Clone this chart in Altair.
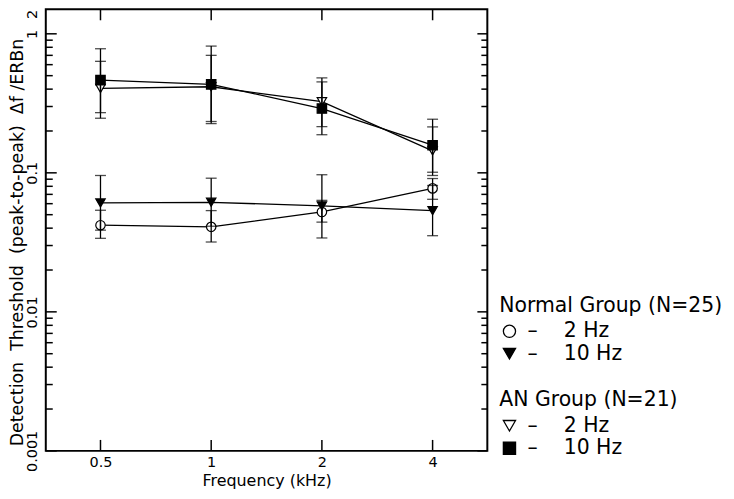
import altair as alt
import pandas as pd

# ---------------- data ----------------
freqs = [0.5, 1, 2, 4]

normal_2hz = [0.042, 0.0409, 0.0523, 0.0773]
normal_2hz_lo = [0.0338, 0.0318, 0.0442, 0.0645]
normal_2hz_hi = [0.0538, 0.0535, 0.0634, 0.091]

normal_10hz = [0.0607, 0.0614, 0.0578, 0.0535]
normal_10hz_lo = [0.0387, 0.0413, 0.034, 0.0353]
normal_10hz_hi = [0.0957, 0.0915, 0.0969, 0.0811]

an_2hz = [0.405, 0.416, 0.325, 0.144]
an_2hz_lo = [0.247, 0.234, 0.215, 0.0957]
an_2hz_hi = [0.634, 0.700, 0.482, 0.214]

an_10hz = [0.464, 0.433, 0.290, 0.158]
an_10hz_lo = [0.271, 0.226, 0.188, 0.101]
an_10hz_hi = [0.781, 0.816, 0.451, 0.243]

NB = "\u00a0"
label_2 = "\u2013" + NB * 4 + "2 Hz"
label_10 = "\u2013" + NB * 4 + "10 Hz"

y_major_ticks = [0.001, 0.01, 0.1, 1]
y_minor_ticks = [k * 10.0 ** e for e in (-3, -2, -1) for k in range(2, 10)]
x_ticks = [0.5, 1, 2, 4]
y_label_values = [0.001, 0.01, 0.1, 1, 1.5]

FONT = "DejaVu Sans"
W, H = 444, 444


def frame(group, label, vals, lo, hi):
    return pd.DataFrame({
        "group": group, "label": label, "series": group + label,
        "freq": freqs, "value": vals, "lo": lo, "hi": hi,
    })


df = pd.concat([
    frame("Normal", label_2, normal_2hz, normal_2hz_lo, normal_2hz_hi),
    frame("Normal", label_10, normal_10hz, normal_10hz_lo, normal_10hz_hi),
    frame("AN", label_2, an_2hz, an_2hz_lo, an_2hz_hi),
    frame("AN", label_10, an_10hz, an_10hz_lo, an_10hz_hi),
], ignore_index=True)

ymaj = pd.DataFrame({"t": y_major_ticks})
ymin = pd.DataFrame({"t": y_minor_ticks})
xt = pd.DataFrame({"t": x_ticks})

xscale = alt.Scale(type="log", domain=[0.355, 5.635], nice=False)
yscale = alt.Scale(type="log", domain=[0.001, 1.5], nice=False)

xaxis = alt.Axis(values=x_ticks, format="~g", title="Frequency (kHz)",
                 labelFontSize=14.5, titleFontSize=16, labelPadding=5,
                 labelFont=FONT, titleFont=FONT,
                 titleBaseline="alphabetic", titleAlign="center",
                 titleX=W / 2, titleY=35)
yaxis = alt.Axis(values=y_label_values,
                 labelExpr="datum.value > 1.2 ? '2' : format(datum.value, '~g')",
                 labelAngle=270,
                 labelAlign={"condition": {"test": "datum.value > 1.2", "value": "right"},
                             "value": "center"},
                 labelBaseline="alphabetic",
                 labelPadding=9, labelFontSize=14.5, labelFont=FONT,
                 title="Detection" + NB * 2 + "Threshold" + NB * 2 + "(peak-to-peak)"
                       + NB * 2 + "\u0394f" + NB + "/ERBn",
                 titleFontSize=17.5, titleFont=FONT, titleAngle=270,
                 titleAlign="center", titleBaseline="alphabetic",
                 titleX=-23.5, titleY=234)


def xenc(field):
    return alt.X(field, scale=xscale, axis=xaxis)


def yenc(field):
    return alt.Y(field, scale=yscale, axis=yaxis)


# inward tick marks on all four sides (positions through the scales)
tick_style = dict(color="black", strokeWidth=1.5)
yt_major_l = alt.Chart(ymaj).mark_rule(**tick_style).encode(
    y=yenc("t:Q"), x=alt.value(0), x2=alt.value(11))
yt_minor_l = alt.Chart(ymin).mark_rule(**tick_style).encode(
    y=yenc("t:Q"), x=alt.value(0), x2=alt.value(7))
yt_major_r = alt.Chart(ymaj).mark_rule(**tick_style).encode(
    y=yenc("t:Q"), x=alt.value(W), x2=alt.value(W - 10))
yt_minor_r = alt.Chart(ymin).mark_rule(**tick_style).encode(
    y=yenc("t:Q"), x=alt.value(W), x2=alt.value(W - 6))
xt_b = alt.Chart(xt).mark_rule(**tick_style).encode(
    x=xenc("t:Q"), y=alt.value(H), y2=alt.value(H - 11))
xt_t = alt.Chart(xt).mark_rule(**tick_style).encode(
    x=xenc("t:Q"), y=alt.value(0), y2=alt.value(11))

lines = alt.Chart(df).mark_line(color="black", strokeWidth=1.3).encode(
    x=xenc("freq:Q"), y=yenc("value:Q"), detail="series:N")

errbars = alt.Chart(df).mark_rule(color="black", strokeWidth=1.3).encode(
    x=xenc("freq:Q"), y=yenc("lo:Q"), y2="hi:Q")
caps_lo = alt.Chart(df).mark_tick(orient="horizontal", size=11, thickness=1.3,
                                  color="black").encode(
    x=xenc("freq:Q"), y=yenc("lo:Q"))
caps_hi = alt.Chart(df).mark_tick(orient="horizontal", size=11, thickness=1.3,
                                  color="black").encode(
    x=xenc("freq:Q"), y=yenc("hi:Q"))


def legend(title, y):
    return alt.Legend(title=title, orient="none", legendX=456, legendY=y,
                      titleFontSize=20.5, labelFontSize=20.5, titleFont=FONT,
                      labelFont=FONT, titleFontWeight="normal",
                      titleColor="black", labelColor="black", symbolSize=150,
                      symbolStrokeColor="black", symbolStrokeWidth=1.3,
                      symbolOpacity=1, rowPadding=1.5, titlePadding=5,
                      labelOffset=8, padding=0, titleLimit=400, labelLimit=300)


def points(group, title, shapes, ly):
    lg = legend(title, ly)
    dom = [label_2, label_10]
    return alt.Chart(df[df.group == group]).mark_point(
        size=90, strokeWidth=1.2, opacity=1, filled=True).encode(
        x=xenc("freq:Q"), y=yenc("value:Q"),
        shape=alt.Shape("label:N", scale=alt.Scale(domain=dom, range=shapes), legend=lg),
        fill=alt.Fill("label:N", scale=alt.Scale(domain=dom, range=["white", "black"]), legend=lg),
        stroke=alt.Stroke("label:N", scale=alt.Scale(domain=dom, range=["black", "black"]), legend=lg),
    )


pts_normal = points("Normal", "Normal Group (N=25)", ["circle", "triangle-down"], 288)
pts_an = points("AN", "AN Group (N=21)", ["triangle-down", "square"], 383)

chart = alt.layer(
    lines, pts_normal, pts_an, errbars, caps_lo, caps_hi,
    yt_major_l, yt_minor_l, yt_major_r, yt_minor_r, xt_b, xt_t,
).resolve_scale(shape="independent", fill="independent", stroke="independent").properties(
    width=W, height=H,
    autosize=alt.AutoSizeParams(type="none"),
    padding={"left": 38, "top": 0, "right": 240, "bottom": 38},
).configure_view(stroke="black", strokeWidth=2).configure_axis(
    labelFont=FONT, titleFont=FONT, grid=False, domain=False, ticks=False,
    labelColor="black", titleColor="black", titleFontWeight="normal",
)

chart.save("out.html", embed_options={"renderer": "svg", "actions": False})
